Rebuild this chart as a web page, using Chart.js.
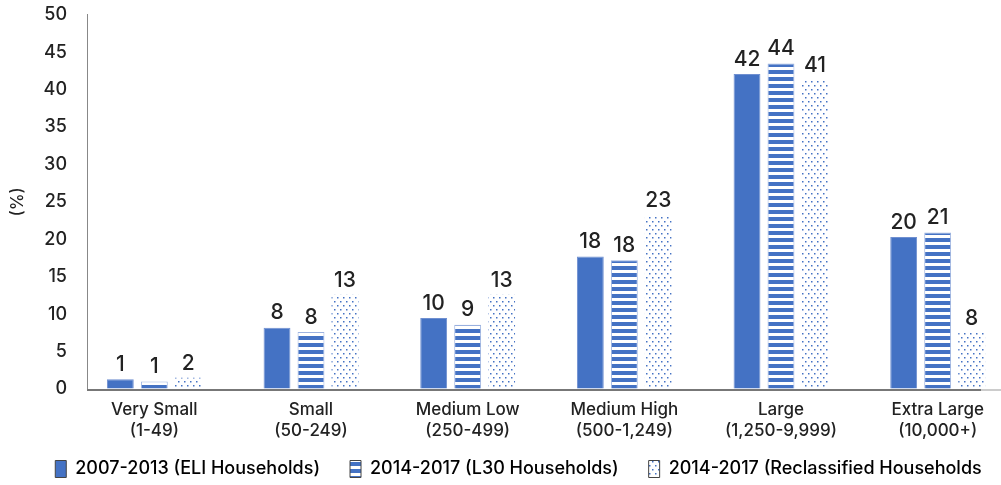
<!DOCTYPE html>
<html>
<head>
<meta charset="utf-8">
<script src="https://cdn.jsdelivr.net/npm/chart.js@4.4.1/dist/chart.umd.min.js"></script>
<style>
  html, body { margin: 0; padding: 0; background: #fff; }
  #wrap { width: 1001px; height: 485px; }
</style>
</head>
<body>
<div id="wrap"><canvas id="chart"></canvas></div>
<script>
const categories = [
    ['Very Small', '(1-49)'],
    ['Small', '(50-249)'],
    ['Medium Low', '(250-499)'],
    ['Medium High', '(500-1,249)'],
    ['Large', '(1,250-9,999)'],
    ['Extra Large', '(10,000+)']
];
const seriesNames = [
    '2007-2013 (ELI Households)',
    '2014-2017 (L30 Households)',
    '2014-2017 (Reclassified Households'
];
// bar heights
const eliValues = [1.3, 8.2, 9.5, 17.7, 42.1, 20.3];
const l30Values = [1.0, 7.6, 8.6, 17.2, 43.5, 20.9];
const reclassValues = [1.5, 12.6, 12.6, 23.2, 41.2, 7.5];
// numbers printed above the bars
const eliLabels = [1, 8, 10, 18, 42, 20];
const l30Labels = [1, 8, 9, 18, 44, 21];
const reclassLabels = [2, 13, 13, 23, 41, 8];
const yTicks = [0, 5, 10, 15, 20, 25, 30, 35, 40, 45, 50];

const blue = '#4472C4';
const font = "Inter, 'Liberation Sans', Arial, sans-serif";

function stripePattern() {
    const c = document.createElement('canvas');
    c.width = 4; c.height = 7;
    const g = c.getContext('2d');
    g.fillStyle = '#fff';
    g.fillRect(0, 0, 4, 7);
    g.fillStyle = blue;
    g.fillRect(0, 0, 4, 4);
    return g.createPattern(c, 'repeat');
}

function dotPattern() {
    const c = document.createElement('canvas');
    c.width = 6; c.height = 8;
    const g = c.getContext('2d');
    g.fillStyle = '#fff';
    g.fillRect(0, 0, 6, 8);
    g.fillStyle = blue;
    g.fillRect(1, 1, 1.5, 1.5);
    g.fillRect(4, 5, 1.5, 1.5);
    return g.createPattern(c, 'repeat');
}

const allLabels = [eliLabels, l30Labels, reclassLabels];

// legend box kept short, then drawn a bit higher and right of its slot
const legendFit = {
    id: 'legendFit',
    afterInit(chart) {
        const lg = chart.legend;
        const fit = lg.fit;
        const draw = lg.draw;
        lg.fit = function () {
            fit.call(this);
            this.height = 41;
        };
        lg.draw = function () {
            const t = this.top, l = this.left, r = this.right;
            this.top = t - 14;
            this.left = l + 18;
            this.right = r + 18;
            draw.call(this);
            this.top = t; this.left = l; this.right = r;
        };
    }
};

// The category band starts a little left of the y axis and runs past the right edge
const widenX = {
    id: 'widenX',
    afterLayout(chart) {
        const x = chart.scales.x;
        x.left = chart.scales.y.right - 11;
        x.width = 940;
        x.right = x.left + x.width;
        x.configure();
    }
};

// x axis line, drawn from the y axis rightwards
const baseLine = {
    id: 'baseLine',
    afterDatasetsDraw(chart) {
        const ctx = chart.ctx;
        const y0 = chart.scales.y.getPixelForValue(0);
        const left = chart.scales.y.right;
        ctx.save();
        ctx.lineWidth = 2;
        ctx.strokeStyle = '#777';
        ctx.beginPath();
        ctx.moveTo(left, y0 + 1);
        ctx.lineTo(chart.width - 20, y0 + 1);
        ctx.stroke();
        ctx.strokeStyle = '#ccc';
        ctx.beginPath();
        ctx.moveTo(chart.width - 20, y0 + 1);
        ctx.lineTo(chart.width, y0 + 1);
        ctx.stroke();
        ctx.restore();
    }
};

// Draws the value above every bar
const valueLabels = {
    id: 'valueLabels',
    afterDatasetsDraw(chart) {
        const ctx = chart.ctx;
        ctx.save();
        ctx.font = '500 21px ' + font;
        ctx.fillStyle = '#222';
        ctx.textAlign = 'center';
        ctx.textBaseline = 'bottom';
        chart.data.datasets.forEach((ds, i) => {
            chart.getDatasetMeta(i).data.forEach((bar, j) => {
                ctx.fillText(allLabels[i][j], bar.x, bar.y - 4);
            });
        });
        ctx.restore();
    }
};

const ctx = document.getElementById('chart').getContext('2d');
new Chart(ctx, {
    type: 'bar',
    data: {
        labels: categories,
        datasets: [
            {
                label: seriesNames[0],
                data: eliValues,
                backgroundColor: blue,
                borderColor: '#6f8fd0',
                borderWidth: 1,
            },
            {
                label: seriesNames[1],
                data: l30Values,
                backgroundColor: stripePattern(),
                borderColor: '#9db3e0',
                borderWidth: 1,
            },
            {
                label: seriesNames[2],
                data: reclassValues,
                backgroundColor: dotPattern(),
                borderWidth: 0,
            },
        ],
    },
    options: {
        responsive: true,
        maintainAspectRatio: false,
        animation: false,
        layout: {
            padding: 0,
        },
        datasets: {
            bar: {
                categoryPercentage: 0.651,
                barPercentage: 0.79,
            },
        },
        plugins: {
            tooltip: { enabled: false },
            legend: {
                position: 'bottom',
                labels: {
                    color: '#222',
                    font: { family: font, size: 18, weight: '500' },
                    boxWidth: 11,
                    boxHeight: 17,
                    padding: 30,
                    generateLabels(chart) {
                        return chart.data.datasets.map((ds, i) => ({
                            text: ds.label,
                            fillStyle: ds.backgroundColor,
                            strokeStyle: '#444',
                            lineWidth: 1,
                            datasetIndex: i,
                        }));
                    },
                },
            },
        },
        scales: {
            x: {
                afterFit(scale) { scale.height = 55; },
                grid: { display: false, drawTicks: false },
                border: { display: false },
                ticks: {
                    color: '#222',
                    font: { family: font, size: 17, weight: '500' },
                    padding: 11,
                    maxRotation: 0,
                },
            },
            y: {
                min: 0,
                max: 50,
                afterFit(scale) { scale.width = 87; },
                afterBuildTicks(scale) { scale.ticks = yTicks.map(v => ({ value: v })); },
                grid: {
                    display: true,
                    drawOnChartArea: false,
                    drawTicks: true,
                    tickLength: 16,
                    color: 'rgba(0,0,0,0)',
                },
                border: { color: '#888', width: 1 },
                ticks: {
                    color: '#222',
                    font: { family: font, size: 18, weight: '500' },
                    padding: 4,
                },
                title: {
                    display: true,
                    text: '(%)',
                    color: '#222',
                    font: { family: font, size: 17, weight: '500' },
                    padding: { top: 8, bottom: 0 },
                },
            },
        },
    },
    plugins: [legendFit, widenX, valueLabels, baseLine],
});
</script>
</body>
</html>
